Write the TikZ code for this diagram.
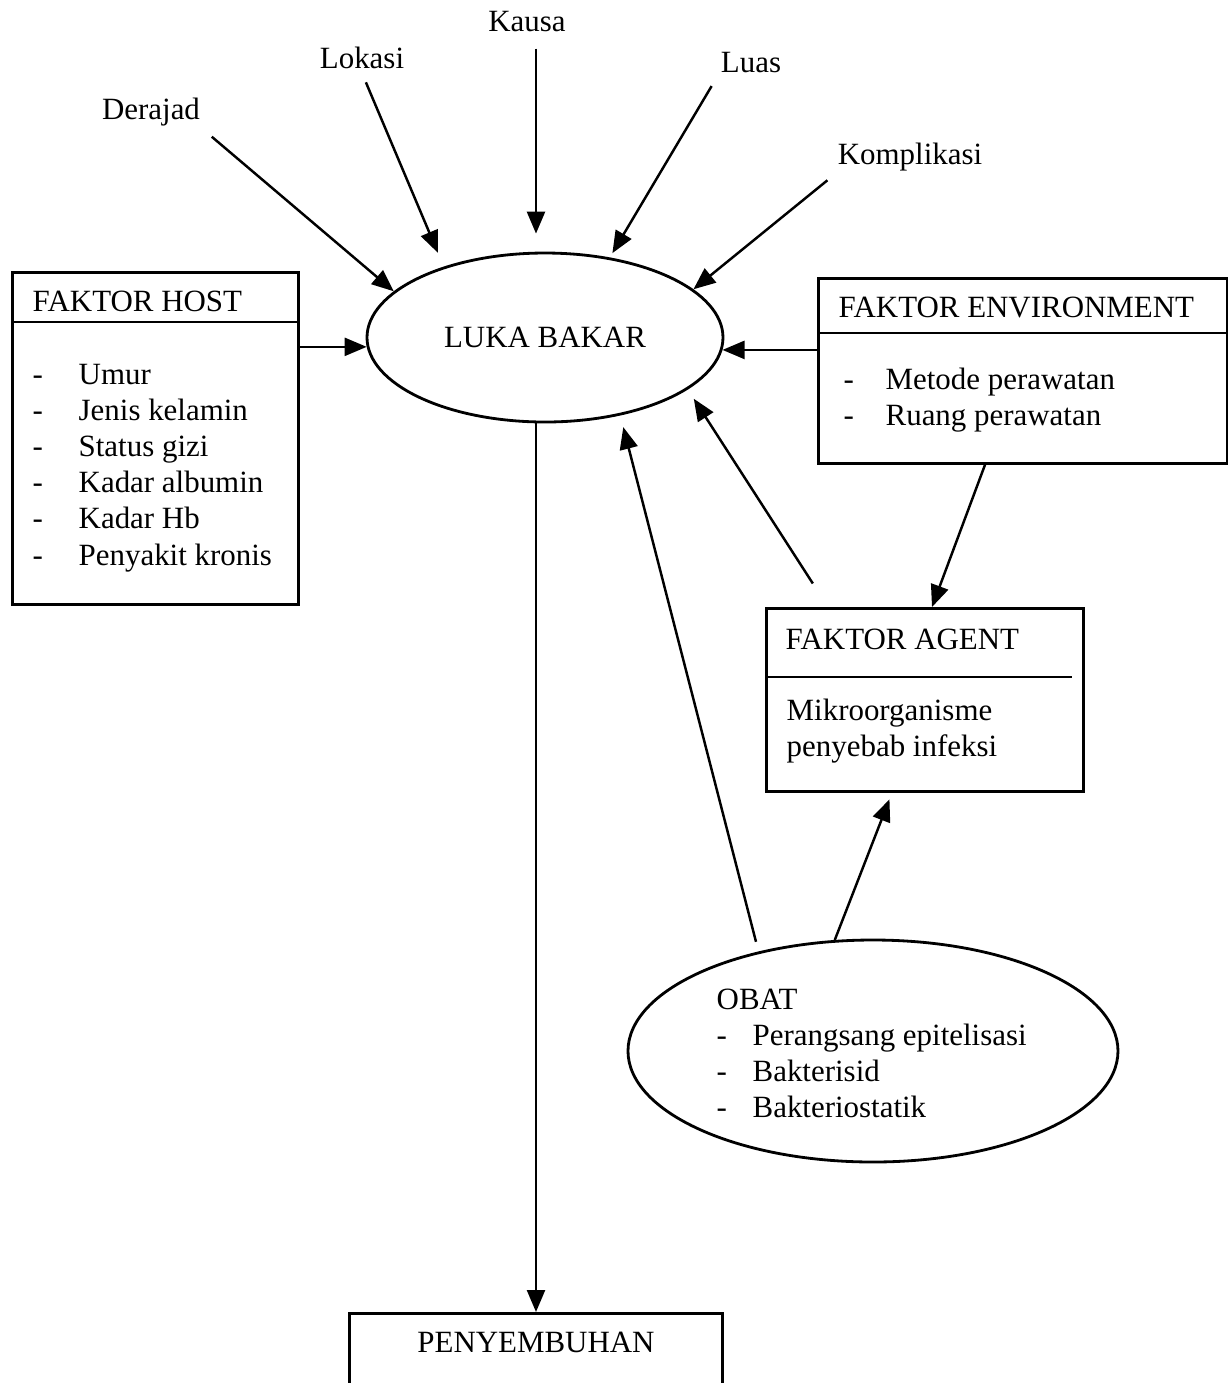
\documentclass[tikz,border=0pt]{standalone}
\usepackage{fontspec}
\setmainfont{Liberation Serif}
\usepackage{tikz}
\usetikzlibrary{shapes.geometric,arrows.meta}
\tikzstyle{arr} = [-{Triangle[length=2.2mm,width=1.8mm]}, line width=0.7pt]
\tikzset{box/.style={draw, line width=0.8pt, inner sep=0pt},
    oval/.style={draw, ellipse, line width=0.8pt, inner sep=0pt},
    lbl/.style={inner sep=1pt},
    txt/.style={inner sep=0pt}}

\begin{document}
\begin{tikzpicture}[x=0.1mm, y=-0.1mm, font=\fontsize{8.8pt}{10.3pt}\selectfont]
    \useasboundingbox (0,0) rectangle (1228,1383);
    % Definition of the centre
    \node[oval, minimum width=35.6mm, minimum height=16.9mm] (luka) at (545,337.5) {LUKA BAKAR};
    % causes above
    \node[lbl] (derajad) at (151,112) {Derajad};
    \node[lbl] (lokasi) at (362,58) {Lokasi};
    \node[lbl] (kausa) at (527,22) {Kausa};
    \node[lbl] (luas) at (751,63) {Luas};
    \node[lbl] (komplikasi) at (910,157) {Komplikasi};
    %
    % faktor host
    \node[box, anchor=north west, minimum width=28.6mm, minimum height=33.2mm] (host) at (11,271) {};
    \draw[line width=0.8pt] ([yshift=-5.1mm]host.north west) -- ([yshift=-5.1mm]host.north east);
    \node[txt, anchor=west] (hosttitle) at (32,301) {FAKTOR HOST};
    \node[txt, anchor=north west] (hostlist) at (32,358) {\begin{tabular}{@{}p{4.6mm}@{}l@{}}
      - & Umur\\
      - & Jenis kelamin\\
      - & Status gizi\\
      - & Kadar albumin\\
      - & Kadar Hb\\
      - & Penyakit kronis
    \end{tabular}};
    % faktor environment
    \node[box, anchor=north west, minimum width=40.9mm, minimum height=18.5mm] (env) at (817,277) {};
    \draw[line width=0.8pt] ([yshift=-5.6mm]env.north west) -- ([yshift=-5.6mm]env.north east);
    \node[txt, anchor=west] (envtitle) at (838,307) {FAKTOR ENVIRONMENT};
    \node[txt, anchor=north west] (envlist) at (843,363) {\begin{tabular}{@{}p{4.2mm}@{}l@{}}
      - & Metode perawatan\\
      - & Ruang perawatan
    \end{tabular}};
    % faktor agent
    \node[box, anchor=north west, minimum width=31.7mm, minimum height=18.3mm] (agent) at (765,607) {};
    \draw[line width=0.8pt] ([yshift=-7mm]agent.north west) -- ([xshift=30.7mm,yshift=-7mm]agent.north west);
    \node[txt, anchor=west] (agenttitle) at (785,639) {FAKTOR AGENT};
    \node[txt, anchor=north west] (agentlist) at (786,694) {\begin{tabular}{@{}l@{}}
      Mikroorganisme\\
      penyebab infeksi
    \end{tabular}};
    % obat
    \node[oval, minimum width=49mm, minimum height=22.2mm] (obat) at (873,1051) {};
    \node[txt, anchor=north west] (obatlist) at (716,983) {\begin{tabular}{@{}p{3.6mm}@{}l@{}}
      \multicolumn{2}{@{}l@{}}{OBAT}\\
      - & Perangsang epitelisasi\\
      - & Bakterisid\\
      - & Bakteriostatik
    \end{tabular}};
    % penyembuhan
    \node[box, anchor=north, minimum width=37.3mm, minimum height=10mm] (peny) at (536,1312) {};
    \node[txt] (penytext) at (536,1342) {PENYEMBUHAN};
    %
    % arrows
    \draw[arr, shorten <=1mm] (derajad.south east) -- (luka.163);
    \draw[arr, shorten <=1mm, shorten >=1.5mm] (lokasi.south) -- (luka.145);
    \draw[arr, shorten <=1.2mm, shorten >=1.8mm] (kausa.south -| peny.north) -- (luka.north -| peny.north);
    \draw[arr, shorten <=1mm, shorten >=0.5mm] (luas.south west) -- (luka.51);
    \draw[arr, shorten <=0.8mm] (komplikasi.south west) -- (luka.18);
    \draw[arr] (host.east |- luka.183) -- (luka.183);
    \draw[arr] (env.west |- luka.-4) -- (luka.-4);
    \draw[arr] ([xshift=16.8mm]env.south west) -- ([xshift=16.7mm]agent.north west);
    \draw[arr, shorten <=2.8mm, shorten >=1.1mm] ([xshift=6.3mm]agent.north west) -- (luka.-20);
    \draw[arr, shorten <=1mm, shorten >=1.2mm] (obat.139) -- (luka.-46);
    \draw[arr, shorten >=0.7mm] (obat.109) -- ([xshift=12.7mm]agent.south west);
    \draw[arr] (luka.south -| peny.north) -- (peny.north);
\end{tikzpicture}
\end{document}
